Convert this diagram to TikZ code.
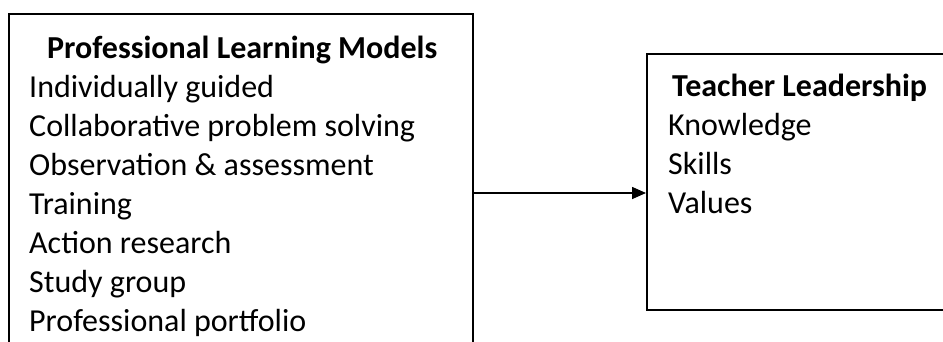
\documentclass[tikz,border=0pt]{standalone}
\usepackage{fontspec}
\setmainfont{Carlito}
\usetikzlibrary{arrows.meta}
\begin{document}
\begin{tikzpicture}[x=1pt,y=1pt,
  box/.style={draw=black,line width=1.6pt,inner sep=0pt,anchor=north west},
  txt/.style={anchor=base west,inner sep=0pt,font=\fontsize{32}{39}\selectfont},
  hdr/.style={anchor=base west,inner sep=0pt,font=\fontsize{32}{39}\selectfont\bfseries},
  link/.style={line width=1.6pt,-{Triangle[length=14pt,width=12pt]}}]
\useasboundingbox (0,0) rectangle (943,341);
\node[box,minimum width=464pt,minimum height=420pt] (L) at (8,328) {};
\node[box,minimum width=400pt,minimum height=256pt] (R) at (646,288) {};
% left texts
\node[hdr] (lh) at (47,283) {Professional Learning Models};
\node[txt] (l1) at (29,244) {Individually guided};
\node[txt] (l2) at (29,205) {Collaborative problem solving};
\node[txt] (l3) at (29,166) {Observation \& assessment};
\node[txt] (l4) at (29,127) {Training};
\node[txt] (l5) at (29,88) {Action research};
\node[txt] (l6) at (29,49) {Study group};
\node[txt] (l7) at (29,10) {Professional portfolio};
% right texts
\node[hdr] (rh) at (672,245) {Teacher Leadership};
\node[txt] (r1) at (668,206) {Knowledge};
\node[txt] (r2) at (668,167) {Skills};
\node[txt] (r3) at (668,128) {Values};
% connector
\coordinate (a) at (0,148);
\draw[link] (L.east |- a) -- (R.west |- a);
\end{tikzpicture}
\end{document}
